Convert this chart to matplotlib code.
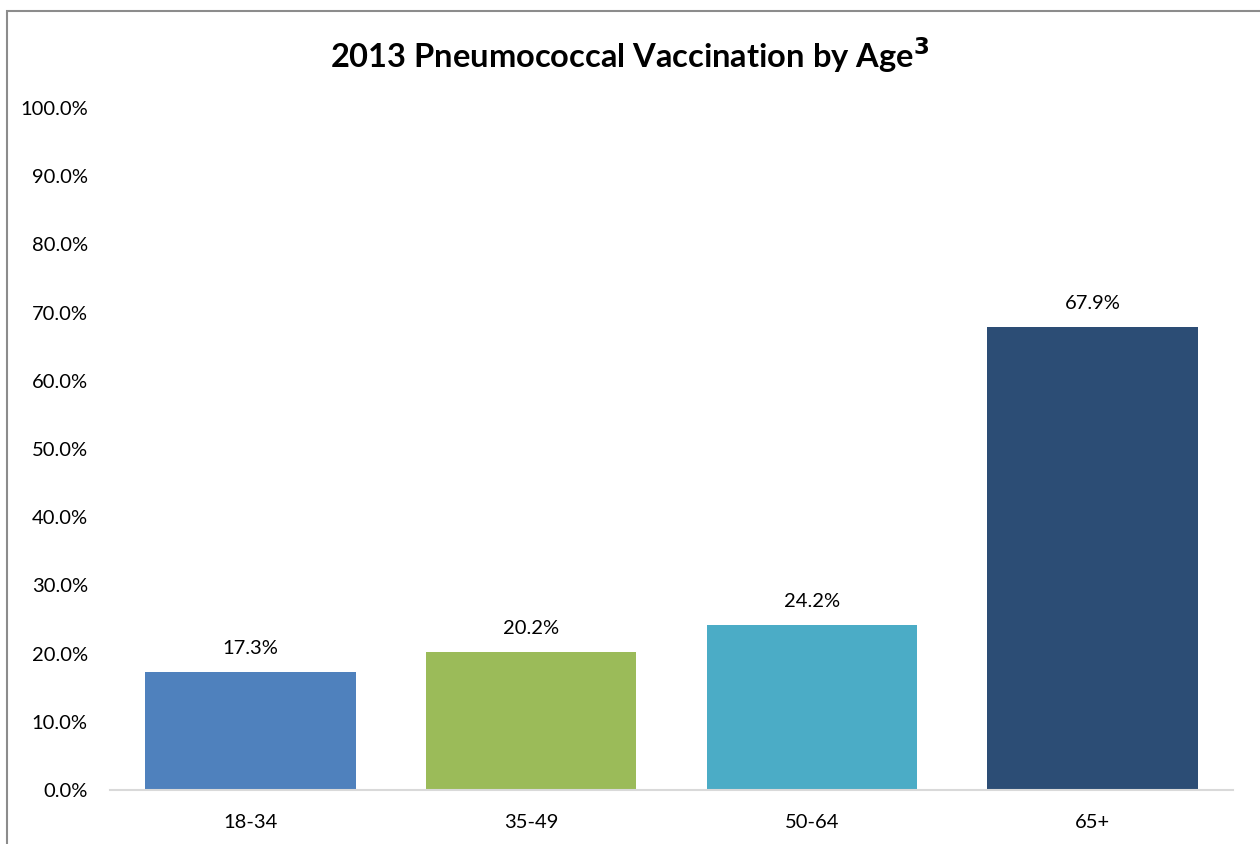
import matplotlib
matplotlib.use("Agg")
import matplotlib.pyplot as plt
from matplotlib.patches import Rectangle

categories = ["18-34", "35-49", "50-64", "65+"]
values = [17.3, 20.2, 24.2, 67.9]
colors = ["#4F81BD", "#9BBB59", "#4BACC6", "#2C4D75"]
yticks = [0, 10, 20, 30, 40, 50, 60, 70, 80, 90, 100]

plt.rcParams['font.family'] = ['Lato', 'DejaVu Sans']

fig = plt.figure(figsize=(12.6, 8.44), dpi=100)
ax = fig.add_axes([110/1260, 1-790/844, (1233-110)/1260, (790-108)/844])

x = list(range(len(categories)))
bars = ax.bar(x, values, width=0.75, color=colors, zorder=2)
for xi, v in zip(x, values):
    ax.annotate(f"{v:.1f}%", (xi, v), xytext=(0, 11), textcoords="offset points",
                ha="center", va="bottom", fontsize=14.5)

ax.set_xlim(-0.5, len(categories) - 0.5)
ax.set_ylim(0, 100)
ax.set_yticks(yticks)
ax.set_yticklabels([f"{t:.1f}%" for t in yticks], fontsize=14.5)
ax.set_xticks(x)
ax.set_xticklabels(categories, fontsize=14.5)
ax.tick_params(axis='y', length=0, pad=16)
ax.tick_params(axis='x', length=0, pad=17)
for s in ["top", "right", "left"]:
    ax.spines[s].set_visible(False)
ax.spines["bottom"].set_color("#D9D9D9")
ax.spines["bottom"].set_linewidth(1.5)

fig.text(0.5, 1-55/844, "2013 Pneumococcal Vaccination by Age$^{\\mathbf{3}}$",
         ha="center", va="center", fontsize=23.5, fontweight="bold")

fig.patches.append(Rectangle((7/1260, -0.1), 1.2, 1-11/844+0.1, transform=fig.transFigure,
                             fill=False, edgecolor="#8C8C8C", linewidth=1.5, figure=fig))

fig.savefig("out.png", dpi=100)
